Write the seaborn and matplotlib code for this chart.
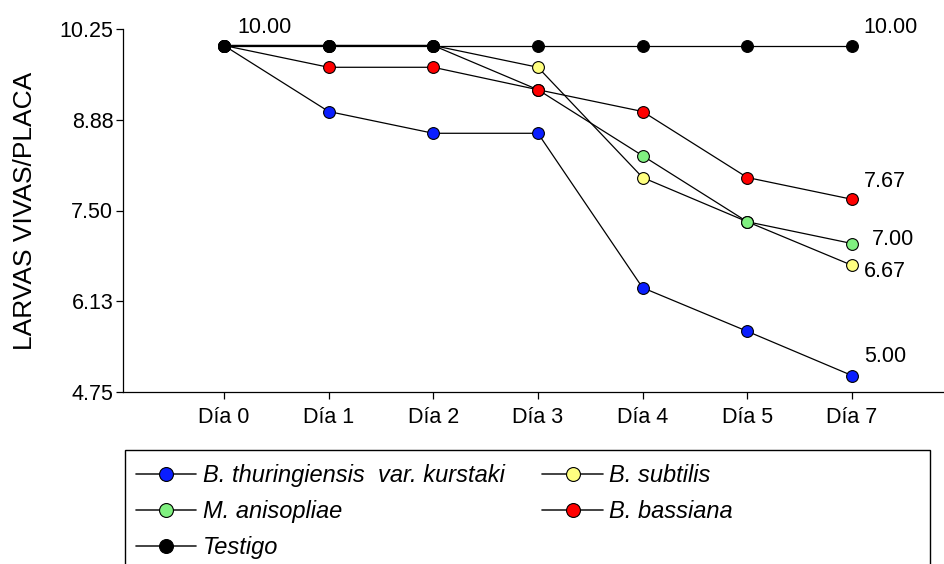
import matplotlib
matplotlib.use("Agg")
import matplotlib.pyplot as plt
import seaborn as sns
import pandas as pd
from matplotlib.lines import Line2D
from matplotlib.patches import Rectangle

days = ["Día 0", "Día 1", "Día 2", "Día 3", "Día 4", "Día 5", "Día 7"]
bt_kurstaki = [10.00, 9.00, 8.67, 8.67, 6.33, 5.67, 5.00]
b_subtilis = [10.00, 10.00, 10.00, 9.67, 8.00, 7.33, 6.67]
m_anisopliae = [10.00, 10.00, 10.00, 9.33, 8.33, 7.33, 7.00]
b_bassiana = [10.00, 9.67, 9.67, 9.33, 9.00, 8.00, 7.67]
testigo = [10.00] * 7

names = ["B. thuringiensis  var. kurstaki", "B. subtilis", "M. anisopliae",
         "B. bassiana", "Testigo"]
yticks = [10.25, 8.875, 7.50, 6.125, 4.75]
ytick_labels = ["10.25", "8.88", "7.50", "6.13", "4.75"]

series = {
    names[0]: bt_kurstaki,
    names[1]: b_subtilis,
    names[2]: m_anisopliae,
    names[3]: b_bassiana,
    names[4]: testigo,
}
colors = {
    names[0]: "#0a1eff",
    names[1]: "#ffff80",
    names[2]: "#80f080",
    names[3]: "#ff0000",
    names[4]: "#000000",
}
draw_order = [names[1], names[2], names[3], names[0], names[4]]

df = pd.DataFrame(
    [(d, n, v) for n in names for d, v in zip(days, series[n])],
    columns=["dia", "serie", "valor"],
)

sns.set_theme(style="ticks")
plt.rcParams["font.family"] = ["Liberation Sans", "DejaVu Sans"]
plt.rcParams["text.color"] = "black"
plt.rcParams["axes.labelcolor"] = "black"

fig = plt.figure(figsize=(9.45, 5.64), dpi=100)
ax = fig.add_axes([123 / 945, 1 - 392 / 564, 1 - 123 / 945, (392 - 29) / 564])

xpos = {d: i for i, d in enumerate(days)}
df["x"] = df["dia"].map(xpos)

for n in draw_order:
    sub = df[df["serie"] == n]
    sns.lineplot(data=sub, x="x", y="valor", ax=ax, color="black", lw=0.9,
                 marker="o", markersize=8.5, markerfacecolor=colors[n],
                 markeredgecolor="black", markeredgewidth=0.8, legend=False)

ax.set_xlim(-0.965, 6.89)
ax.set_ylim(4.75, 10.25)
ax.set_xticks(range(len(days)))
ax.set_xticklabels(days)
ax.set_yticks(yticks)
ax.set_yticklabels(ytick_labels)
ax.set_xlabel("")
ax.set_ylabel("LARVAS VIVAS/PLACA", fontsize=19, labelpad=16, color="black")
ax.tick_params(axis="both", labelsize=15.5, direction="out", length=5,
               width=0.9, color="black", labelcolor="black")
ax.tick_params(axis="x", pad=6)
ax.tick_params(axis="y", pad=2)
for s in ["top", "right"]:
    ax.spines[s].set_visible(False)
for s in ["left", "bottom"]:
    ax.spines[s].set_linewidth(0.9)
    ax.spines[s].set_color("black")

# value annotations
ann = [
    (0, testigo[0], (13, 18)),
    (6, testigo[6], (12, 18)),
    (6, b_bassiana[6], (12, 18)),
    (6, m_anisopliae[6], (20, 4)),
    (6, b_subtilis[6], (12, -6)),
    (6, bt_kurstaki[6], (12, 19)),
]
for xi, v, off in ann:
    ax.annotate(f"{v:.2f}", (xi, v), xytext=off, textcoords="offset pixels",
                ha="left", va="center", fontsize=15.5, color="black")

# legend
legend_order = [names[0], names[2], names[4], names[1], names[3]]
handles = [Line2D([], [], color="#222222", lw=1.2, marker="o", markersize=10,
                  markerfacecolor=colors[n], markeredgecolor="black",
                  markeredgewidth=0.8) for n in legend_order]
leg = fig.legend(handles, legend_order, loc="upper left",
                 bbox_to_anchor=(136 / 945, 1 - 464 / 564), ncol=2,
                 frameon=False, prop={"style": "italic", "size": 17},
                 handlelength=2.55, handletextpad=0.28, columnspacing=1.6,
                 labelspacing=0.56, borderaxespad=0, borderpad=0)
for t in leg.get_texts():
    t.set_color("black")
fig.add_artist(Rectangle((125 / 945, -0.05), (930 - 125) / 945,
                         (1 - 450 / 564) + 0.05, transform=fig.transFigure,
                         fill=False, edgecolor="black", lw=1.0))

fig.savefig("out.png", dpi=100)
